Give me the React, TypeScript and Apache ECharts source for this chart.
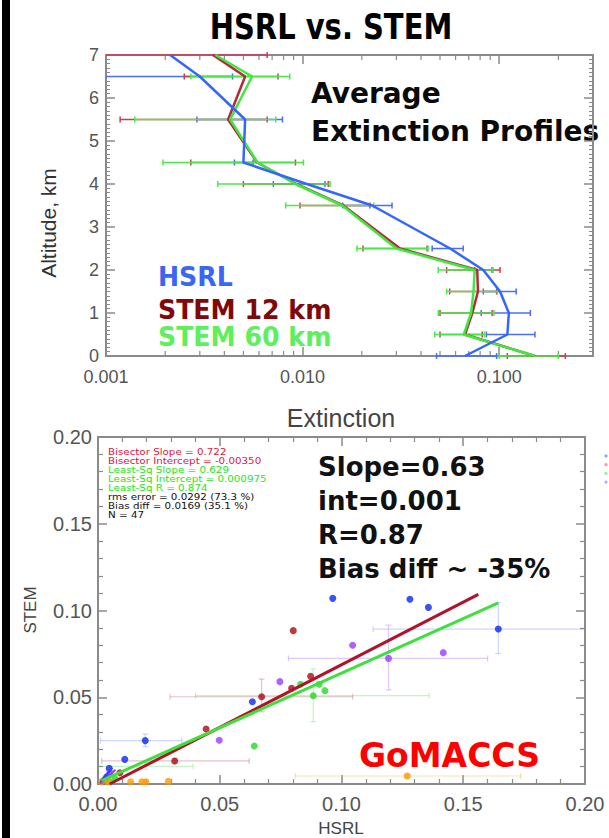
import React, { useEffect, useRef } from "react";
import * as echarts from "echarts";

// ---------- Top panel: average extinction profiles ----------
const altitudes = [0, 0.5, 1, 1.5, 2, 2.5, 3.5, 4, 4.5, 5.5, 6.5, 7];
const hsrlExt = [0.067, 0.11, 0.112, 0.101, 0.083, 0.0563, 0.0226, 0.0105, 0.005, 0.0051, 0.003, 0.00212];
const stem12Ext = [0.152, 0.067, 0.073, 0.078, 0.0773, 0.0313, 0.0161, 0.0093, 0.00587, 0.00418, 0.0051, 0.0035];
const stem60Ext = [0.152, 0.066, 0.072, 0.074, 0.075, 0.03, 0.0159, 0.0092, 0.0059, 0.00428, 0.00553, 0.0036];

const hsrlLo = [0.048, 0.086, 0.081, 0.083, 0.075, 0.0456, 0.016, 0.0071, 0.0045, 0.0029, 0.0005, null];
const hsrlHi = [0.097, 0.152, 0.144, 0.122, 0.092, 0.0656, 0.0285, 0.013, 0.0056, 0.0079, 0.0044, null];
const stem12Lo = [0.11, 0.05, 0.05, 0.056, 0.054, 0.0203, 0.0097, 0.005, 0.0027, 0.00118, 0.0025, 0.0005];
const stem12Hi = [0.217, 0.082, 0.092, 0.097, 0.101, 0.043, 0.022, 0.0135, 0.0092, 0.0066, 0.0075, 0.0066];
const stem60Lo = [0.1, 0.047, 0.049, 0.054, 0.049, 0.0189, 0.0082, 0.0037, 0.00195, 0.0014, 0.0027, null];
const stem60Hi = [0.2, 0.084, 0.094, 0.098, 0.093, 0.0435, 0.023, 0.0138, 0.0101, 0.0073, 0.0086, null];

const extMin = 0.001;
const extMax = 0.3;
const logMinorTicks = [0.002, 0.003, 0.004, 0.005, 0.006, 0.007, 0.008, 0.009, 0.02, 0.03, 0.04, 0.05, 0.06, 0.07, 0.08, 0.09, 0.2, 0.3];

// ---------- Bottom panel: STEM vs HSRL scatter ----------
const scatterBlue = [[0.0964, 0.107], [0.1281, 0.1065], [0.1357, 0.1018], [0.1644, 0.0893], [0.0634, 0.0474], [0.0194, 0.025], [0.011, 0.0142], [0.0046, 0.009], [0.0036, 0.0042], [0.0022, 0.0018]];
const scatterRed = [[0.0802, 0.0884], [0.0873, 0.0621], [0.0795, 0.0552], [0.0672, 0.0503], [0.0444, 0.0317], [0.0315, 0.0133], [0.009, 0.0065]];
const scatterPurple = [[0.1046, 0.08], [0.1418, 0.0757], [0.1193, 0.0724], [0.0747, 0.059], [0.0498, 0.0252], [0.0049, 0.0065], [0.003, 0.003]];
const scatterGreen = [[0.0832, 0.0575], [0.0908, 0.0575], [0.0932, 0.0538], [0.0884, 0.0509], [0.0642, 0.0219], [0.007, 0.003], [0.0045, 0.0015]];
const scatterOrange = [[0.0015, 0.0013], [0.004, 0.0012], [0.0134, 0.0013], [0.018, 0.0013], [0.0197, 0.0013], [0.0289, 0.0015], [0.127, 0.0046]];

// [x, y, xLow, xHigh, yLow, yHigh]
const errBlue = [[0.1644, 0.0893, 0.113, 0.21, 0.0752, 0.1045], [0.0194, 0.025, 0.001, 0.0344, 0.0215, 0.0288]];
const errPurple = [[0.1193, 0.0724, 0.0782, 0.16, 0.0542, 0.0916]];
const errGreen = [[0.0884, 0.0509, 0.04, 0.136, 0.0359, 0.0663], [0.0195, 0.0102, 0.0, 0.039, 0.0085, 0.0125]];
const errRed = [[0.0672, 0.0503, 0.0296, 0.1046, 0.0416, 0.0605], [0.0315, 0.0133, 0.0015, 0.0621, 0.0118, 0.0148]];
const errOrange = [[0.127, 0.0046, 0.081, 0.1736, 0.0035, 0.0057]];

const bisectorLine = [[0.0048, 0], [0.1562, 0.1093]];
const leastSqLine = [[0.0015, 0.0019], [0.1644, 0.1044]];
const blueFitLine = [[0.0008, 0.0005], [0.0058, 0.0095]];
const purpleFitLine = [[0.001, 0.0005], [0.0072, 0.0082]];

const statLines = [
  { text: "Bisector Slope = 0.722", kind: "bis" },
  { text: "Bisector Intercept = -0.00350", kind: "bis" },
  { text: "Least-Sq Slope = 0.629", kind: "ls" },
  { text: "Least-Sq Intercept = 0.000975", kind: "ls" },
  { text: "Least-Sq R = 0.874", kind: "ls" },
  { text: "rms error = 0.0292 (73.3 %)", kind: "k" },
  { text: "Bias diff = 0.0169 (35.1 %)", kind: "k" },
  { text: "N = 47", kind: "k" },
];
const bigStats = ["Slope=0.63", "int=0.001", "R=0.87", "Bias diff ~ -35%"];
const legendLabels = ["HSRL", "STEM 12 km", "STEM 60 km"];

const FRAME = "#8a8a8a";
const SANS = "Liberation Sans";
const BOLD = "DejaVu Sans";

function profileErr(lo: (number | null)[], hi: (number | null)[]) {
  const out: number[][] = [];
  altitudes.forEach((a, i) => {
    if (lo[i] != null && hi[i] != null) out.push([lo[i] as number, hi[i] as number, a]);
  });
  return out;
}

function profileErrSeries(name: string, lo: any[], hi: any[], color: string) {
  return {
    name,
    type: "custom",
    xAxisIndex: 0,
    yAxisIndex: 0,
    z: 3,
    encode: { x: [0, 1], y: 2 },
    data: profileErr(lo, hi),
    renderItem: (params: any, api: any) => {
      const cs = params.coordSys;
      const y = api.value(2);
      const a = api.coord([api.value(0), y]);
      const b = api.coord([api.value(1), y]);
      const left = cs.x;
      const right = cs.x + cs.width;
      const x1 = Math.max(a[0], left);
      const x2 = Math.min(b[0], right);
      const style = { stroke: color, lineWidth: 1.5 };
      const c = 3;
      const children: any[] = [
        { type: "line", shape: { x1, y1: a[1], x2, y2: b[1] }, style },
      ];
      if (a[0] >= left) children.push({ type: "line", shape: { x1: a[0], y1: a[1] - c, x2: a[0], y2: a[1] + c }, style });
      if (b[0] <= right) children.push({ type: "line", shape: { x1: b[0], y1: b[1] - c, x2: b[0], y2: b[1] + c }, style });
      return { type: "group", children };
    },
  };
}

function scatterErrSeries(name: string, data: number[][], color: string) {
  return {
    name,
    type: "custom",
    xAxisIndex: 2,
    yAxisIndex: 2,
    z: 2,
    encode: { x: [0, 2, 3], y: [1, 4, 5] },
    data,
    renderItem: (params: any, api: any) => {
      const cs = params.coordSys;
      const x = api.value(0);
      const y = api.value(1);
      const l = api.coord([api.value(2), y]);
      const r = api.coord([api.value(3), y]);
      const t = api.coord([x, api.value(5)]);
      const bt = api.coord([x, api.value(4)]);
      const left = cs.x;
      const right = cs.x + cs.width;
      const style = { stroke: color, lineWidth: 1.2 };
      const c = 3;
      const children: any[] = [
        { type: "line", shape: { x1: Math.max(l[0], left), y1: l[1], x2: Math.min(r[0], right), y2: r[1] }, style },
        { type: "line", shape: { x1: t[0], y1: t[1], x2: bt[0], y2: bt[1] }, style },
        { type: "line", shape: { x1: t[0] - c, y1: t[1], x2: t[0] + c, y2: t[1] }, style },
        { type: "line", shape: { x1: bt[0] - c, y1: bt[1], x2: bt[0] + c, y2: bt[1] }, style },
      ];
      if (l[0] >= left) children.push({ type: "line", shape: { x1: l[0], y1: l[1] - c, x2: l[0], y2: l[1] + c }, style });
      if (r[0] <= right) children.push({ type: "line", shape: { x1: r[0], y1: r[1] - c, x2: r[0], y2: r[1] + c }, style });
      return { type: "group", children };
    },
  };
}

function scatterSeries(name: string, data: number[][], color: string) {
  return {
    name,
    type: "scatter",
    xAxisIndex: 2,
    yAxisIndex: 2,
    z: 4,
    symbol: "circle",
    symbolSize: 7,
    itemStyle: { color },
    data,
  };
}

function fitLine(name: string, data: number[][], color: string, width: number) {
  return {
    name, type: "line", xAxisIndex: 2, yAxisIndex: 2, z: 5, symbol: "none",
    lineStyle: { color, width },
    data,
  };
}

function frameAxis(extra: any) {
  return {
    axisLine: { show: true, onZero: false, lineStyle: { color: FRAME, width: 2 } },
    axisTick: { show: true, inside: true, length: 9, lineStyle: { color: FRAME, width: 1.5 } },
    minorTick: { show: false },
    splitLine: { show: false },
    ...extra,
  };
}

function txt(text: string, x: number, y: number, o: any = {}) {
  const { rotation, scaleY, scaleX, ...st } = o;
  const el: any = {
    type: "text",
    x,
    y,
    silent: true,
    style: {
      text,
      x: 0,
      y: 0,
      fill: "#000",
      fontFamily: SANS,
      fontSize: 14,
      align: "left",
      textAlign: "left",
      verticalAlign: "middle",
      textVerticalAlign: "middle",
      ...st,
    },
  };
  if (st.align) el.style.textAlign = st.align;
  if (rotation != null) el.rotation = rotation;
  if (scaleY != null) el.scaleY = scaleY;
  if (scaleX != null) el.scaleX = scaleX;
  return el;
}

export default function App() {
  const ref = useRef<HTMLDivElement>(null);

  useEffect(() => {
    if (!ref.current) return;
    const chart = echarts.init(ref.current, null, { renderer: "svg" });

    const statColor: any = { bis: "#dc1840", ls: "#22e622", k: "#111" };
    const legendColors = ["#3a66f5", "#800808", "#5cf05c"];
    const legendY = [277, 309.5, 337];

    const graphics: any[] = [
      { type: "rect", shape: { x: 2, y: 0, width: 8, height: 838 }, style: { fill: "#000" }, silent: true },
      txt("HSRL vs. STEM", 331, 27, { fontFamily: BOLD, fontWeight: "bold", fontSize: 29, align: "center", scaleY: 1.25 }),
      txt("Average", 311, 93, { fontFamily: BOLD, fontWeight: "bold", fontSize: 28, fill: "#0a0a0a" }),
      txt("Extinction Profiles", 311, 131, { fontFamily: BOLD, fontWeight: "bold", fontSize: 28, fill: "#0a0a0a" }),
      txt("Altitude, km", 48, 223, { fontFamily: SANS, fontSize: 21, fill: "#333", align: "center", rotation: Math.PI / 2 }),
      txt("Extinction", 341, 418, { fontFamily: SANS, fontSize: 25, fill: "#444", align: "center" }),
      txt("STEM", 30, 610, { fontFamily: SANS, fontSize: 17, fill: "#444", align: "center", rotation: Math.PI / 2 }),
      txt("HSRL", 341, 828, { fontFamily: SANS, fontSize: 17, fill: "#444", align: "center" }),
      txt("GoMACCS", 359, 755, { fontFamily: BOLD, fontWeight: "bold", fontSize: 33, fill: "#ff0000" }),
    ];
    legendLabels.forEach((s, i) => {
      graphics.push(txt(s, 158, legendY[i], { fontFamily: BOLD, fontWeight: "bold", fontSize: 24.5, fill: legendColors[i], scaleX: 1.03, scaleY: 1.05 }));
    });
    statLines.forEach((s, i) => {
      graphics.push(txt(s.text, 108, 452 + i * 9, { fontFamily: "DejaVu Sans", fontSize: 8.6, fill: statColor[s.kind], scaleX: 1.2 }));
    });
    bigStats.forEach((s, i) => {
      graphics.push(txt(s, 318, 467 + i * 34, { fontFamily: BOLD, fontWeight: "bold", fontSize: 26, fill: "#111" }));
    });
    const dotColors = ["#8fa6ff", "#f09aa8", "#9cf09c", "#caa0ff"];
    dotColors.forEach((c, i) => {
      graphics.push({ type: "circle", shape: { cx: 606, cy: 456 + i * 8.7, r: 1.6 }, style: { fill: c }, silent: true });
    });

    const option: any = {
      animation: false,
      backgroundColor: "#ffffff",
      textStyle: { fontFamily: SANS },
      grid: [
        { left: 106, top: 55, width: 487, height: 301 },
        { left: 98, top: 437, width: 487, height: 347 },
      ],
      xAxis: [
        frameAxis({
          gridIndex: 0, type: "log", logBase: 10, min: extMin, max: extMax, position: "bottom",
          axisLabel: { formatter: (v: number) => v.toFixed(3), color: "#555", fontSize: 18, margin: 12, showMaxLabel: false, fontFamily: SANS },
        }),
        frameAxis({
          gridIndex: 0, type: "log", logBase: 10, min: extMin, max: extMax, position: "top",
          axisLabel: { show: false },
        }),
        frameAxis({
          gridIndex: 1, type: "value", min: 0, max: 0.2, interval: 0.05, position: "bottom",
          minorTick: { show: true, splitNumber: 5, length: 5, lineStyle: { color: FRAME, width: 1.2 } },
          axisLabel: { formatter: (v: number) => v.toFixed(2), color: "#555", fontSize: 20, margin: 10, fontFamily: SANS },
        }),
        frameAxis({
          gridIndex: 1, type: "value", min: 0, max: 0.2, interval: 0.05, position: "top",
          minorTick: { show: true, splitNumber: 5, length: 5, lineStyle: { color: FRAME, width: 1.2 } },
          axisLabel: { show: false },
        }),
      ],
      yAxis: [
        frameAxis({
          gridIndex: 0, type: "value", min: 0, max: 7, interval: 1, position: "left",
          minorTick: { show: true, splitNumber: 10, length: 4, lineStyle: { color: FRAME, width: 1 } },
          axisLabel: { color: "#555", fontSize: 18, margin: 7, fontFamily: SANS },
        }),
        frameAxis({
          gridIndex: 0, type: "value", min: 0, max: 7, interval: 1, position: "right",
          minorTick: { show: true, splitNumber: 10, length: 4, lineStyle: { color: FRAME, width: 1 } },
          axisLabel: { show: false },
        }),
        frameAxis({
          gridIndex: 1, type: "value", min: 0, max: 0.2, interval: 0.05, position: "left",
          minorTick: { show: true, splitNumber: 5, length: 5, lineStyle: { color: FRAME, width: 1.2 } },
          axisLabel: { formatter: (v: number) => v.toFixed(2), color: "#555", fontSize: 20, margin: 6, fontFamily: SANS },
        }),
        frameAxis({
          gridIndex: 1, type: "value", min: 0, max: 0.2, interval: 0.05, position: "right",
          minorTick: { show: true, splitNumber: 5, length: 5, lineStyle: { color: FRAME, width: 1.2 } },
          axisLabel: { show: false },
        }),
      ],
      graphic: { elements: graphics },
      series: [
        {
          name: "log minor ticks",
          type: "custom",
          xAxisIndex: 0,
          yAxisIndex: 0,
          z: 1,
          silent: true,
          encode: { x: 0 },
          data: logMinorTicks.map((v) => [v]),
          renderItem: (params: any, api: any) => {
            const b = api.coord([api.value(0), 0]);
            const t = api.coord([api.value(0), 7]);
            const style = { stroke: FRAME, lineWidth: 1.2 };
            return {
              type: "group",
              children: [
                { type: "line", shape: { x1: b[0], y1: b[1], x2: b[0], y2: b[1] - 5 }, style },
                { type: "line", shape: { x1: t[0], y1: t[1], x2: t[0], y2: t[1] + 5 }, style },
              ],
            };
          },
        },
        profileErrSeries("HSRL error", hsrlLo, hsrlHi, "#4a6cff"),
        profileErrSeries("STEM 12 km error", stem12Lo, stem12Hi, "#d03a50"),
        profileErrSeries("STEM 60 km error", stem60Lo, stem60Hi, "#48ea48"),
        {
          name: "STEM 12 km", type: "line", xAxisIndex: 0, yAxisIndex: 0, z: 4, symbol: "none",
          lineStyle: { color: "#b4283c", width: 2.5 },
          data: altitudes.map((a, i) => [stem12Ext[i], a]),
        },
        {
          name: "STEM 60 km", type: "line", xAxisIndex: 0, yAxisIndex: 0, z: 4, symbol: "none",
          lineStyle: { color: "#3ee83e", width: 2.5 },
          data: altitudes.map((a, i) => [stem60Ext[i], a]),
        },
        {
          name: "HSRL", type: "line", xAxisIndex: 0, yAxisIndex: 0, z: 4, symbol: "none",
          lineStyle: { color: "#3366ff", width: 2.5 },
          data: altitudes.map((a, i) => [hsrlExt[i], a]),
        },
        scatterErrSeries("blue err", errBlue, "rgba(90,120,255,0.3)"),
        scatterErrSeries("purple err", errPurple, "rgba(170,100,255,0.35)"),
        scatterErrSeries("green err", errGreen, "rgba(60,220,60,0.3)"),
        scatterErrSeries("red err", errRed, "rgba(180,50,70,0.3)"),
        scatterErrSeries("orange err", errOrange, "rgba(255,170,60,0.4)"),
        fitLine("Blue fit", blueFitLine, "#2a40ff", 2),
        fitLine("Purple fit", purpleFitLine, "#9a3cff", 2),
        fitLine("Bisector", bisectorLine, "#b0142a", 3),
        fitLine("Least-Sq", leastSqLine, "#3ee03e", 3),
        scatterSeries("blue", scatterBlue, "#0a28f0"),
        scatterSeries("red", scatterRed, "#aa0a14"),
        scatterSeries("purple", scatterPurple, "#9a3cff"),
        scatterSeries("green", scatterGreen, "#22dc22"),
        scatterSeries("orange", scatterOrange, "#ff9a00"),
      ],
    };
    chart.setOption(option);
    return () => chart.dispose();
  }, []);

  return (
    <div
      ref={ref}
      style={{ position: "absolute", left: 0, top: 0, width: 609, height: 838, background: "#fff" }}
    />
  );
}
